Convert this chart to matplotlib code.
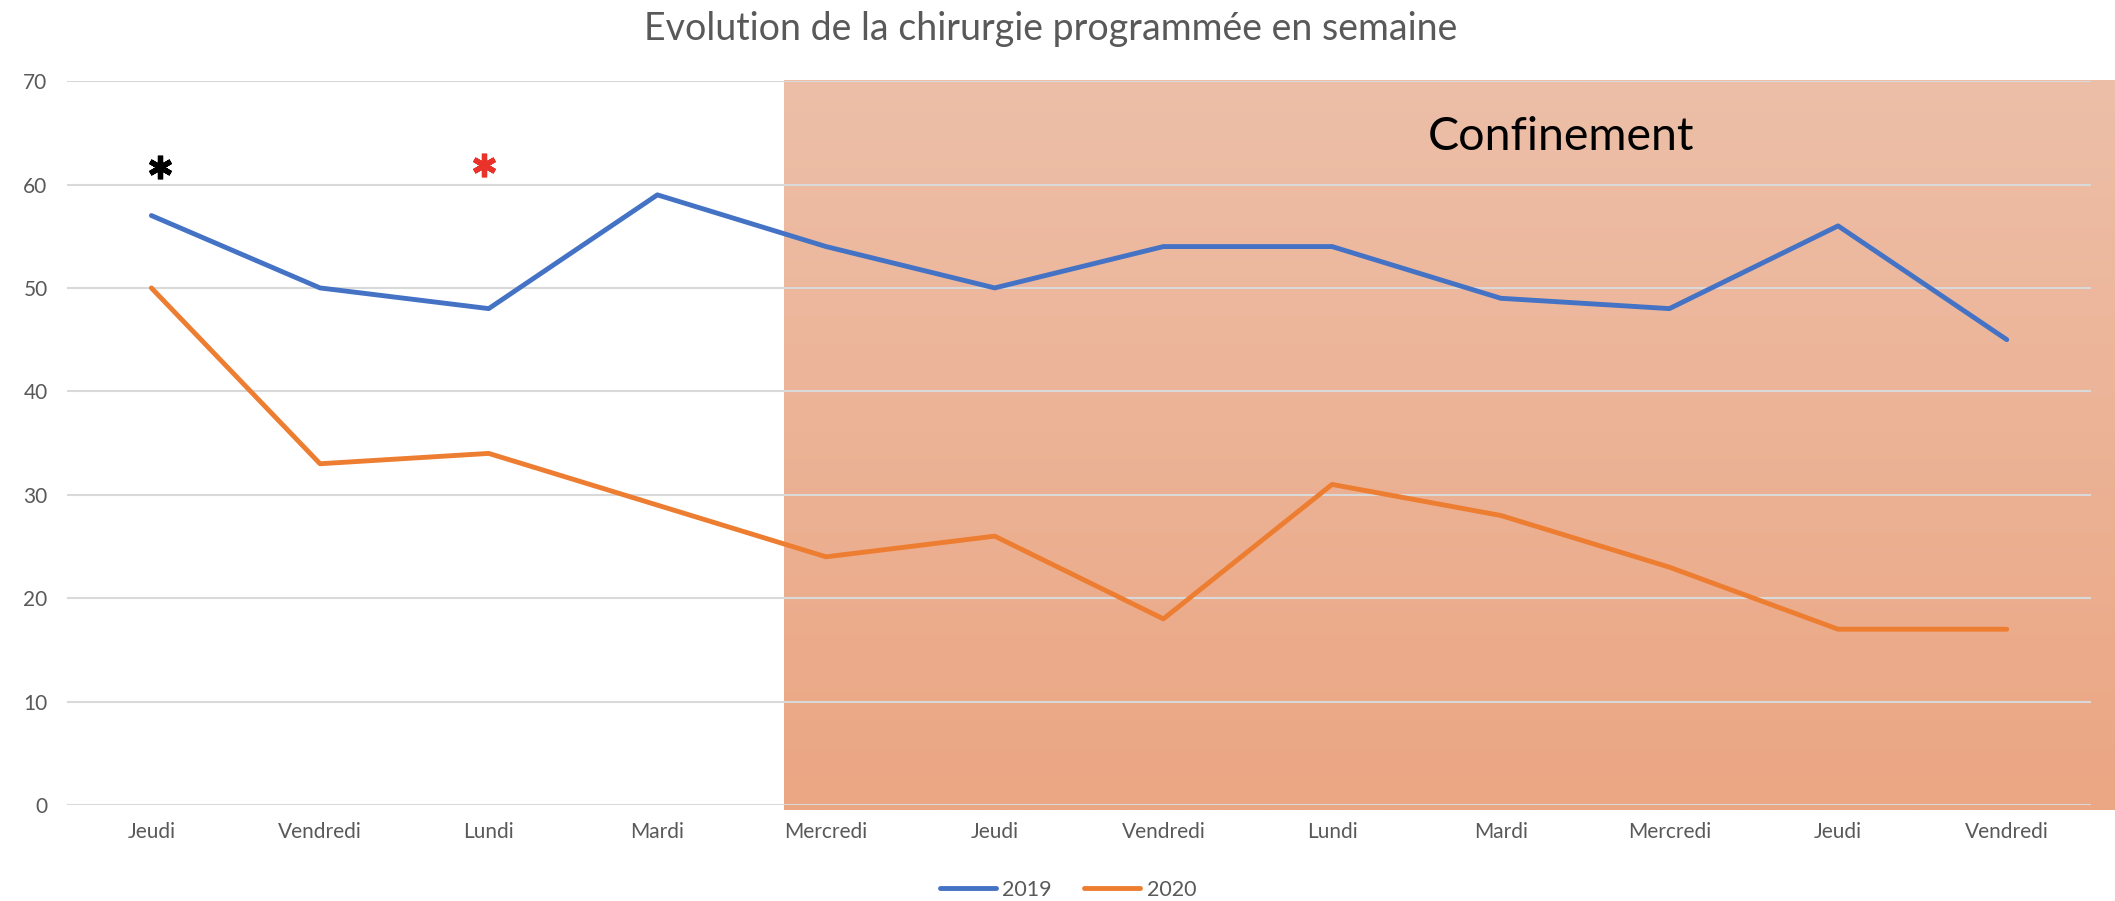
import numpy as np
import matplotlib
matplotlib.use("Agg")
from matplotlib import pyplot as plt

# data
days = ["Jeudi", "Vendredi", "Lundi", "Mardi", "Mercredi", "Jeudi",
        "Vendredi", "Lundi", "Mardi", "Mercredi", "Jeudi", "Vendredi"]
y2019 = [57, 50, 48, 59, 54, 50, 54, 54, 49, 48, 56, 45]
y2020 = [50, 33, 34, 29, 24, 26, 18, 31, 28, 23, 17, 17]
stars_x = [0.05, 1.97]
stars_y = [61.7, 61.9]
stars_col = ["black", "#e8322a"]
confinement_start = 3.75

plt.rcParams['font.family'] = ['Liberation Sans Narrow', 'DejaVu Sans Condensed', 'Lato', 'DejaVu Sans']
grey = "#595959"

fig = plt.figure(figsize=(21.15, 9.01), dpi=100)
ax = fig.add_axes([0.0317, 0.1065, 0.957, 0.8035])

x = np.arange(len(days))
ax.set_xlim(-0.5, len(days) - 0.5)
ax.set_ylim(0, 70)

# shaded "confinement" area, light at top, darker at bottom
grad = np.linspace(0, 1, 256).reshape(-1, 1)
top = np.array([237, 191, 168]) / 255
bot = np.array([235, 166, 131]) / 255
img = top + (bot - top) * grad[..., None].repeat(1, axis=1)
ax.imshow(img, extent=(confinement_start, 11.65, -0.5, 70), aspect="auto",
          origin="upper", zorder=0, clip_on=False)

# gridlines
for v in range(0, 71, 10):
  ax.axhline(v, color="#d9d9d9", lw=1.5, zorder=1)

ax.plot(x, y2019, color="#4472c4", lw=3.5, label="2019", zorder=3,
        solid_capstyle="round", solid_joinstyle="round")
ax.plot(x, y2020, color="#ed7d31", lw=3.5, label="2020", zorder=3,
        solid_capstyle="round", solid_joinstyle="round")

for sx, sy, c in zip(stars_x, stars_y, stars_col):
  ax.plot(sx, sy, marker=(6, 2, 0), ms=17, mew=3.8, color=c, zorder=4)

ax.text(8.36, 64.6, "Confinement", fontsize=33.5, color="black",
        ha="center", va="center", zorder=4)

ax.set_xticks(x)
ax.set_xticklabels(days)
ax.set_yticks(range(0, 71, 10))
ax.tick_params(axis="both", length=0, labelsize=15, colors=grey)
ax.tick_params(axis="x", pad=12)
ax.tick_params(axis="y", pad=14)
for s in ax.spines.values():
  s.set_visible(False)

fig.suptitle("Evolution de la chirurgie programmée en semaine", x=0.497, y=0.988,
             fontsize=27, color=grey)

fig.legend(loc="lower center", bbox_to_anchor=(0.505, -0.02), ncol=2, frameon=False,
           fontsize=15.5, handlelength=2.6, columnspacing=1.5, handletextpad=0.3,
           labelcolor=grey)

fig.savefig("out.png", dpi=100)
